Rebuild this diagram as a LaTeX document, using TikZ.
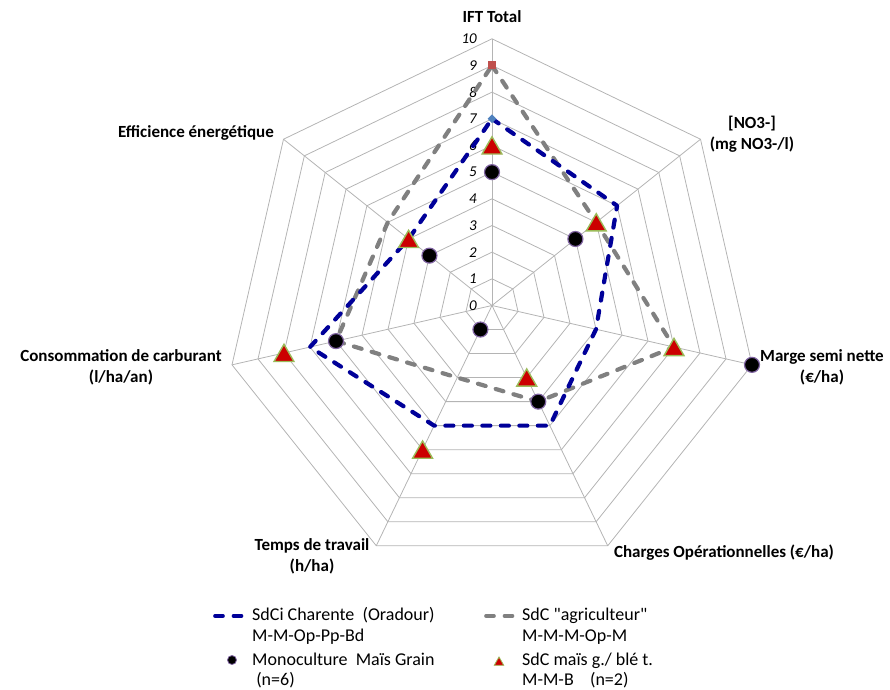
\documentclass[tikz,border=0pt]{standalone}
\usepackage{fontspec}
\setmainfont{Carlito}[Ligatures=TeXOff]
\usetikzlibrary{shapes.geometric}
\definecolor{gridgray}{RGB}{180,180,180}
\definecolor{navy}{RGB}{0,0,153}
\definecolor{midgray}{RGB}{128,128,128}
\definecolor{trired}{RGB}{204,0,0}
\definecolor{trigreen}{RGB}{155,187,89}
\definecolor{dotpurple}{RGB}{128,100,162}
\definecolor{diamondblue}{RGB}{79,129,189}
\definecolor{squarered}{RGB}{192,80,77}
\begin{document}
\begin{tikzpicture}[x=26.67pt,y=26.67pt,
  gridline/.style={draw=gridgray,line width=0.8pt},
  seriesline/.style={line width=4.2pt,line cap=round,line join=round,dash pattern=on 8pt off 10.5pt},
  charente/.style={seriesline,draw=navy},
  agri/.style={seriesline,draw=midgray},
  monodot/.style={circle,fill=black,draw=dotpurple,line width=1.2pt,minimum size=15pt,inner sep=0pt},
  maistri/.style={regular polygon,regular polygon sides=3,fill=trired,draw=trigreen,line width=1.4pt,minimum size=23pt,inner sep=0pt,yshift=-2.8pt},
  bluemark/.style={diamond,fill=diamondblue,minimum size=9pt,inner sep=0pt},
  redmark/.style={rectangle,fill=squarered,minimum size=8pt,inner sep=0pt},
  axislabel/.style={font=\fontsize{17}{21}\selectfont\bfseries,align=center,inner sep=0pt},
  ticklabel/.style={font=\fontsize{15}{16}\selectfont\itshape,anchor=east,inner sep=0pt},
  legendtext/.style={font=\fontsize{18}{20.5}\selectfont,align=left,anchor=west,inner sep=0pt}
]
\useasboundingbox (-492pt,-383.5pt) rectangle (398pt,305.5pt);

% heptagonal grid, one ring per unit
\foreach \k in {1,...,10}
  \draw[gridline] (90:\k) \foreach \i in {1,...,6} { -- ({90-\i*360/7}:\k) } -- cycle;
\foreach \i in {0,...,6}
  \draw[gridline] (0,0) -- ({90-\i*360/7}:10);

% scale numbers on the vertical axis
\foreach \k in {0,...,10}
  \node[ticklabel,xshift=-15pt] (tick\k) at (0,\k) {\k};

% data points, axes in clockwise order from the top
\foreach \v [count=\i from 0] in {7,6,4,5,5,7,4}
  \coordinate (cha\i) at ({90-\i*360/7}:\v);
\foreach \v [count=\i from 0] in {9,5,7,4,3,6,5}
  \coordinate (agr\i) at ({90-\i*360/7}:\v);
\foreach \v [count=\i from 0] in {5,4,10,4,1,6,3}
  \coordinate (mon\i) at ({90-\i*360/7}:\v);
\foreach \v [count=\i from 0] in {6,5,7,3,6,8,4}
  \coordinate (mai\i) at ({90-\i*360/7}:\v);

\draw[agri] (agr0) -- (agr1) -- (agr2) -- (agr3) -- (agr4) -- (agr5) -- (agr6) -- cycle;
\draw[charente] (cha0) -- (cha1) -- (cha2) -- (cha3) -- (cha4) -- (cha5) -- (cha6) -- cycle;

\node[bluemark] (chamark) at (cha0) {};
\node[redmark] (agrmark) at (agr0) {};

\foreach \i in {0,...,6} {
  \node[maistri] (maimark\i) at (mai\i) {};
  \node[monodot] (monmark\i) at (mon\i) {};
}

% axis titles
\node[axislabel] (lift) at (0pt,288.5pt) {IFT Total};
\node[axislabel] (lno3) at (260pt,171.5pt) {[NO3-]\\(mg NO3-/l)};
\node[axislabel] (lmarge) at (330pt,-62pt) {Marge semi nette\\(€/ha)};
\node[axislabel] (lcharges) at (232pt,-247.5pt) {Charges Opérationnelles (€/ha)};
\node[axislabel] (ltemps) at (-180pt,-251pt) {Temps de travail\\(h/ha)};
\node[axislabel] (lconso) at (-371pt,-62pt) {Consommation de carburant\\(l/ha/an)};
\node[axislabel] (leff) at (-296pt,172.5pt) {Efficience énergétique};

% legend
\coordinate (lgA1) at (-277pt,-310.5pt);
\coordinate (lgA2) at (-243pt,-310.5pt);
\draw[charente,line width=3.6pt] (lgA1) -- (lgA2);
\node[legendtext] (lgAt) at (-240pt,-320.5pt) {SdCi Charente\ \ (Oradour)\\M-M-Op-Pp-Bd};

\coordinate (lgB1) at (-6pt,-310.5pt);
\coordinate (lgB2) at (28pt,-310.5pt);
\draw[agri,line width=3.6pt] (lgB1) -- (lgB2);
\node[legendtext] (lgBt) at (30pt,-320.5pt) {SdC "agriculteur"\\M-M-M-Op-M};

\node[monodot,minimum size=9pt,line width=0.8pt] (lgC) at (-260pt,-354.5pt) {};
\node[legendtext] (lgCt) at (-240pt,-365pt) {Monoculture\ \ Maïs Grain\\\ (n=6)};

\node[maistri,minimum size=11pt,line width=0.8pt,yshift=1.3pt] (lgD) at (7pt,-355.5pt) {};
\node[legendtext] (lgDt) at (30pt,-365pt) {SdC maïs g./ blé t.\\M-M-B\ \ \ \ (n=2)};
\end{tikzpicture}
\end{document}
